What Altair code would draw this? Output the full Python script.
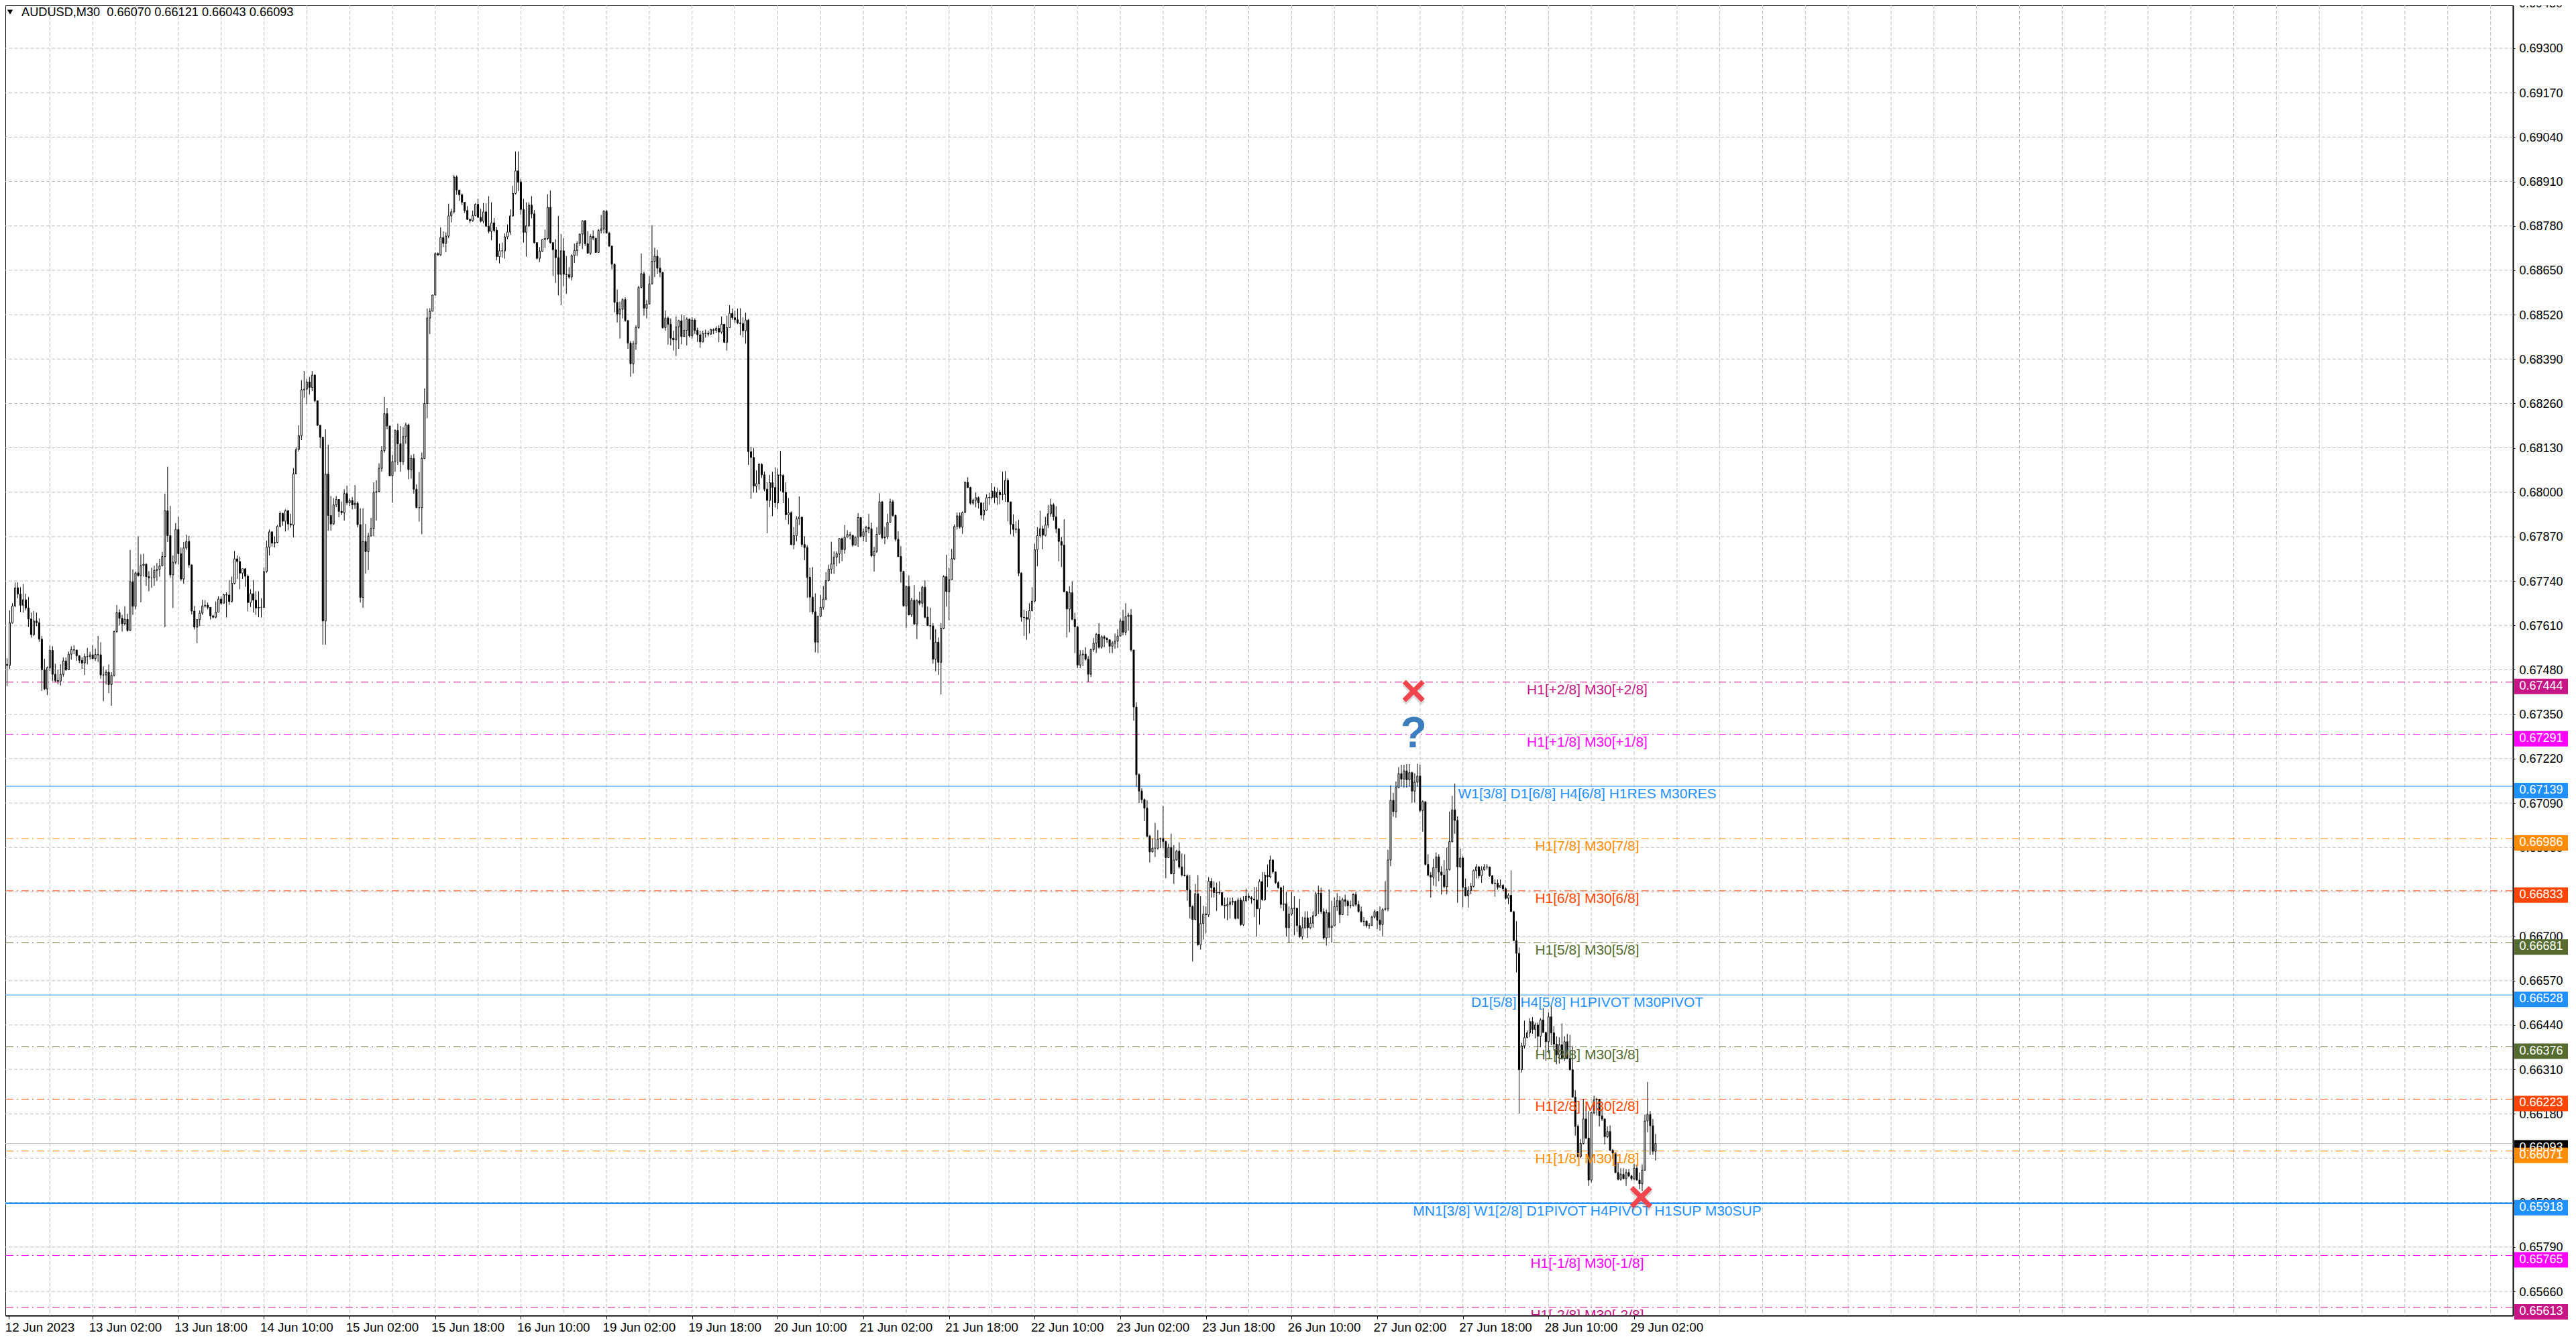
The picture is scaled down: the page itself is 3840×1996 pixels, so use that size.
import json
import altair as alt
import pandas as pd

# Prices in points (1/100000), one bar per 30 minutes
closes = [
67493,67618,67667,67720,67702,67669,67685,67661,67629,67583,
67623,67618,67570,67480,67424,67486,67537,67467,67449,67447,
67467,67506,67480,67526,67539,67538,67521,67508,67500,67519,
67519,67524,67513,67525,67524,67465,67465,67473,67437,67464,
67592,67648,67631,67615,67628,67595,67738,67666,67764,67756,
67785,67789,67753,67749,67749,67771,67774,67784,67812,67946,
67873,67758,67795,67891,67820,67746,67837,67856,67787,67652,
67605,67627,67646,67667,67669,67663,67638,67634,67649,67687,
67675,67700,67699,67680,67733,67805,67797,67763,67776,67754,
67677,67703,67684,67661,67663,67663,67768,67839,67884,67851,
67853,67900,67938,67915,67946,67907,67904,68054,68125,68166,
68300,68302,68323,68307,68343,68268,68196,68161,67623,68053,
67932,67907,67963,67979,67944,67940,67996,67969,67976,67963,
67968,67905,67692,67856,67826,67872,67894,68000,68002,68070,
68122,68230,68194,68048,68090,68181,68142,68089,68163,68197,
68066,68099,68009,67955,67955,68099,68260,68510,68530,68577,
68699,68695,68746,68729,68750,68809,68821,68923,68885,68871,
68849,68825,68799,68795,68810,68843,68805,68794,68821,68779,
68764,68789,68767,68690,68707,68707,68748,68762,68809,68875,
68941,68908,68828,68761,68780,68841,68815,68731,68685,68706,
68740,68743,68834,68731,68710,68687,68638,68707,68638,68637,
68630,68693,68708,68729,68756,68795,68728,68700,68749,68744,
68702,68767,68771,68823,68759,68721,68668,68556,68522,68536,
68564,68503,68437,68376,68435,68482,68600,68640,68539,68551,
68610,68676,68691,68656,68644,68482,68510,68492,68451,68446,
68484,68502,68456,68474,68507,68458,68504,68474,68461,68440,
68465,68466,68463,68476,68474,68480,68469,68492,68439,68482,
68524,68511,68505,68496,68494,68473,68504,68119,68102,68018,
68025,68082,68051,68009,67976,68028,68014,67969,68051,68049,
68000,67934,67940,67847,67873,67922,67927,67847,67838,67751,
67693,67650,67561,67637,67663,67687,67741,67775,67790,67810,
67820,67864,67832,67869,67876,67874,67845,67869,67926,67871,
67884,67897,67893,67814,67827,67877,67972,67867,67869,67912,
67972,67932,67862,67812,67768,67667,67724,67641,67684,67614,
67682,67675,67722,67634,67610,67608,67511,67561,67502,67602,
67753,67709,67744,67805,67900,67931,67898,67941,68029,68014,
67968,67977,67984,67969,67933,67948,67984,67985,68003,67985,
68000,67993,67994,68035,67972,67906,67891,67893,67763,67634,
67633,67628,67653,67681,67832,67873,67893,67874,67904,67937,
67963,67928,67893,67856,67845,67709,67658,67706,67628,67606,
67494,67524,67526,67511,67467,67539,67558,67584,67546,67577,
67572,67568,67549,67558,67564,67579,67623,67590,67636,67640,
67538,67371,67173,67125,67100,67075,66993,66947,66958,66958,
66984,66986,66977,66930,66960,66883,66923,66949,66903,66879,
66877,66835,66787,66749,66824,66675,66737,66765,66763,66861,
66842,66828,66827,66828,66791,66789,66793,66800,66802,66752,
66806,66734,66804,66817,66813,66809,66806,66780,66860,66807,
66879,66874,66923,66888,66857,66842,66793,66795,66725,66765,
66781,66782,66731,66699,66725,66754,66725,66738,66760,66824,
66826,66772,66695,66769,66725,66730,66787,66804,66763,66807,
66802,66789,66790,66822,66793,66772,66743,66744,66731,66732,
66756,66772,66747,66734,66778,66780,66923,67098,67065,67135,
67176,67160,67184,67158,67179,67125,67151,67169,67068,67094,
66910,66879,66873,66901,66932,66888,66879,66845,66895,66977,
67070,67039,66903,66929,66843,66818,66834,66846,66892,66903,
66877,66894,66903,66903,66877,66854,66855,66843,66849,66839,
66811,66820,66772,66687,66650,66309,66379,66403,66417,66450,
66427,66440,66407,66455,66418,66391,66464,66417,66384,66352,
66382,66342,66391,66342,66309,66229,66143,66054,66093,66165,
66109,65986,66183,66221,66222,66174,66165,66113,66128,66073,
66065,66008,65988,66003,65990,66008,65998,65990,66021,65986,
65975,66015,66159,66178,66145,66070,66093,
]
highs = [
67514,67654,67675,67736,67736,67722,67731,67703,67693,67648,
67652,67648,67631,67579,67512,67490,67551,67549,67498,67480,
67496,67516,67516,67534,67549,67552,67537,67523,67517,67528,
67544,67533,67552,67542,67579,67561,67490,67480,67496,67473,
67595,67670,67657,67641,67666,67644,67831,67774,67767,67871,
67818,67820,67792,67769,67779,67785,67793,67805,67825,67996,
68075,67960,67815,67910,67928,67838,67854,67876,67872,67789,
67667,67628,67654,67685,67684,67677,67648,67641,67680,67695,
67695,67703,67707,67743,67753,67828,67815,67812,67776,67776,
67759,67716,67743,67710,67710,67690,67780,67858,67891,67885,
67871,67904,67944,67940,67950,67948,67937,68071,68132,68196,
68328,68355,68332,68338,68355,68345,68266,68197,68161,68184,
68139,67989,67983,67989,67963,67973,68009,68019,67983,67986,
68021,67973,67953,67953,67907,67881,67925,68029,68035,68085,
68135,68279,68247,68194,68110,68184,68201,68194,68191,68204,
68201,68109,68112,68023,68059,68116,68304,68538,68539,68579,
68702,68702,68776,68764,68761,68845,68830,68929,68928,68885,
68875,68849,68838,68801,68825,68846,68860,68830,68847,68846,
68867,68849,68803,68777,68728,68731,68758,68784,68828,68897,
68998,68998,68917,68859,68849,68849,68867,68826,68731,68718,
68741,68769,68873,68884,68730,68741,68809,68756,68744,68692,
68659,68697,68728,68735,68757,68796,68797,68765,68756,68767,
68741,68771,68812,68826,68826,68763,68721,68670,68594,68558,
68568,68571,68503,68443,68443,68489,68604,68699,68646,68563,
68633,68782,68716,68710,68687,68643,68532,68515,68509,68473,
68515,68505,68520,68518,68512,68509,68512,68509,68482,68473,
68473,68476,68473,68479,68480,68486,68489,68515,68486,68517,
68548,68538,68532,68538,68539,68512,68526,68507,68133,68130,
68064,68085,68085,68060,68029,68051,68060,68073,68069,68121,
68053,68029,67983,67944,67898,67930,67988,67928,67871,67845,
67779,67781,67704,67639,67700,67726,67766,67788,67855,67827,
67827,67866,67867,67904,67889,67884,67873,67871,67939,67927,
67893,67902,67937,67911,67840,67898,67997,67974,67898,67937,
67981,67978,67935,67886,67842,67770,67726,67757,67691,67728,
67687,67709,67726,67742,67665,67662,67617,67599,67575,67617,
67757,67817,67779,67834,67906,67941,67941,67944,68032,68044,
68016,67981,67999,67988,67944,67970,67994,67999,68027,68016,
68013,68007,68060,68062,68041,67972,67935,67915,67919,67766,
67656,67652,67675,67722,67849,67898,67946,67902,67928,67963,
67981,67968,67959,67895,67869,67921,67711,67725,67739,67647,
67608,67538,67538,67546,67520,67542,67573,67588,67617,67581,
67581,67575,67559,67564,67586,67599,67630,67656,67675,67647,
67658,67538,67385,67177,67133,67103,67098,66997,66986,67032,
67011,66989,67081,66980,66971,67000,66967,66953,66975,66942,
66940,66881,66879,66791,66853,66879,66817,66789,66787,66873,
66870,66861,66857,66861,66826,66813,66813,66813,66813,66804,
66813,66813,66817,66839,66826,66817,66844,66844,66866,66888,
66888,66910,66936,66925,66889,66861,66845,66848,66830,66787,
66830,66817,66782,66809,66756,66773,66773,66756,66773,66830,
66848,66842,66782,66778,66837,66804,66813,66826,66817,66813,
66822,66807,66804,66826,66830,66804,66787,66756,66747,66738,
66760,66778,66774,66787,66782,66861,66953,67142,67120,67153,
67195,67202,67202,67204,67204,67182,67177,67205,67202,67098,
67094,66940,66888,66927,66945,66940,66905,66923,66960,67065,
67111,67147,67051,66957,66934,66869,66846,66856,66895,66911,
66905,66905,66911,66911,66894,66879,66866,66866,66866,66852,
66843,66826,66893,66774,66744,66667,66388,66453,66424,66460,
66463,66447,66447,66460,66489,66420,66477,66499,66437,66407,
66404,66445,66407,66414,66411,66378,66249,66149,66106,66224,
66201,66188,66185,66233,66227,66224,66195,66165,66143,66146,
66077,66067,66037,66021,66021,66018,66018,66001,66034,66031,
66008,66032,66178,66273,66188,66165,66121,
]
lows = [
67432,67483,67615,67664,67690,67649,67648,67654,67605,67574,
67579,67608,67562,67418,67421,67406,67477,67447,67444,67437,
67434,67460,67477,67480,67510,67526,67506,67500,67483,67465,
67496,67510,67510,67506,67503,67454,67388,67437,67412,67375,
67460,67588,67610,67592,67610,67592,67595,67641,67657,67753,
67678,67753,67726,67710,67720,67726,67740,67753,67785,67605,
67854,67749,67661,67789,67789,67740,67732,67831,67779,67642,
67598,67558,67608,67641,67662,67657,67627,67631,67631,67648,
67670,67677,67633,67670,67677,67730,67746,67716,67746,67723,
67651,67664,67648,67641,67634,67633,67662,67764,67815,67841,
67838,67851,67897,67902,67885,67889,67896,67868,68063,68119,
68153,68277,68258,68286,68296,68263,68194,68129,67554,67554,
67887,67887,67904,67956,67927,67933,67917,67963,67960,67950,
67951,67897,67677,67662,67762,67772,67871,67871,67917,68000,
68060,68116,68184,68048,67969,68060,68080,68060,68080,68142,
68038,68040,67996,67953,67914,67877,68097,68217,68463,68545,
68649,68692,68692,68718,68703,68744,68790,68816,68871,68853,
68841,68818,68797,68788,68792,68808,68803,68790,68787,68777,
68758,68738,68761,68679,68670,68687,68684,68741,68754,68807,
68872,68882,68813,68731,68690,68777,68802,68728,68681,68674,
68704,68715,68738,68728,68633,68613,68576,68548,68604,68581,
68625,68620,68671,68692,68721,68712,68721,68699,68695,68738,
68702,68733,68758,68758,68758,68718,68653,68527,68497,68450,
68509,68499,68420,68338,68348,68417,68479,68597,68517,68509,
68554,68609,68630,68640,68630,68479,68473,68432,68430,68415,
68399,68420,68433,68456,68430,68453,68450,68463,68440,68423,
68439,68453,68456,68461,68463,68467,68439,68464,68437,68415,
68487,68505,68496,68492,68460,68454,68435,68080,67981,67999,
67999,68007,68042,68003,67880,67956,67930,67955,67950,68003,
67968,67919,67906,67845,67833,67856,67904,67840,67801,67691,
67649,67643,67531,67529,67634,67656,67684,67739,67761,67761,
67783,67792,67798,67820,67867,67862,67840,67845,67840,67867,
67856,67854,67880,67810,67768,67823,67876,67862,67848,67862,
67911,67928,67856,67810,67735,67665,67603,67639,67634,67612,
67570,67669,67663,67631,67608,67568,67498,67476,67465,67408,
67599,67665,67625,67742,67801,67891,67893,67878,67939,68012,
67963,67963,67956,67952,67921,67917,67946,67963,67979,67968,
67963,67965,67977,67972,67915,67877,67871,67880,67754,67621,
67579,67568,67586,67651,67678,67783,67867,67833,67871,67895,
67928,67917,67880,67798,67781,67707,67575,67590,67625,67529,
67485,67485,67491,67507,67444,67459,67533,67529,67542,67542,
67546,67559,67529,67529,67542,67544,67577,67581,67581,67595,
67533,67331,67138,67090,67090,67037,66989,66916,66945,66932,
66953,66958,66958,66870,66932,66881,66853,66921,66898,66875,
66875,66804,66752,66626,66747,66672,66661,66690,66708,66756,
66813,66813,66774,66822,66789,66752,66747,66752,66791,66749,
66782,66730,66730,66800,66804,66795,66756,66699,66734,66804,
66804,66844,66870,66883,66853,66839,66782,66774,66699,66681,
66760,66703,66712,66695,66690,66721,66695,66721,66725,66758,
66765,66765,66690,66673,66695,66681,66730,66774,66738,66762,
66787,66760,66782,66787,66787,66769,66740,66730,66725,66721,
66730,66752,66721,66716,66699,66775,66773,66905,67050,67047,
67133,67138,67135,67135,67138,67091,67091,67138,67063,67006,
66907,66875,66813,66848,66845,66861,66822,66840,66823,66892,
66974,67000,66798,66901,66785,66816,66784,66823,66843,66869,
66869,66856,66892,66895,66874,66852,66816,66836,66843,66833,
66807,66794,66771,66686,66594,66181,66301,66371,66401,66404,
66414,66401,66365,66375,66417,66335,66358,66381,66365,66325,
66327,66339,66335,66340,66307,66227,66116,66052,66050,66090,
66106,65969,65979,66178,66175,66143,66159,66090,66109,66071,
66047,66006,65985,65984,65988,65969,65995,65985,65985,65985,
65959,65954,66013,66126,66060,66060,66043,
]
first_open = 67496

price_ticks = [
0.69300,0.69170,0.69040,0.68910,0.68780,0.68650,0.68520,0.68390,0.68260,0.68130,
0.68000,0.67870,0.67740,0.67610,0.67480,0.67350,0.67220,0.67090,0.66960,0.66830,
0.66700,0.66570,0.66440,0.66310,0.66180,0.66050,0.65920,0.65790,0.65660,
]
top_tick = 0.69430
date_labels = [
"12 Jun 2023","13 Jun 02:00","13 Jun 18:00","14 Jun 10:00","15 Jun 02:00",
"15 Jun 18:00","16 Jun 10:00","19 Jun 02:00","19 Jun 18:00","20 Jun 10:00",
"21 Jun 02:00","21 Jun 18:00","22 Jun 10:00","23 Jun 02:00","23 Jun 18:00",
"26 Jun 10:00","27 Jun 02:00","27 Jun 18:00","28 Jun 10:00","29 Jun 02:00",
]
level_values = [0.67444,0.67291,0.67139,0.66986,0.66833,0.66681,0.66528,0.66376,0.66223,0.66071,0.65918,0.65765,0.65613]
level_colors = ["#C71585","#FF00FF","#1E90FF","#FF8C00","#FF4500","#556B2F","#1E90FF",
                "#556B2F","#FF4500","#FF8C00","#1E90FF","#FF00FF","#C71585"]
level_kinds = ["dash","dash","solid","dash","dash","dash","solid","dash","dash","dash","solid","dash","dash"]
level_widths = [1,1,1,1,1,1,1,1,1,1,2.5,1,1]
level_names = [
"H1[+2/8] M30[+2/8]","H1[+1/8] M30[+1/8]","W1[3/8] D1[6/8] H4[6/8] H1RES M30RES",
"H1[7/8] M30[7/8]","H1[6/8] M30[6/8]","H1[5/8] M30[5/8]",
"D1[5/8] H4[5/8] H1PIVOT M30PIVOT","H1[3/8] M30[3/8]","H1[2/8] M30[2/8]","H1[1/8] M30[1/8]",
"MN1[3/8] W1[2/8] D1PIVOT H4PIVOT H1SUP M30SUP","H1[-1/8] M30[-1/8]","H1[-2/8] M30[-2/8]",
]
last_price = 0.66093
header = "AUDUSD,M30\u00a0\u00a00.66070 0.66121 0.66043 0.66093"
cross_bars = [525.6, 610.6]
cross_prices = [0.67418, 0.65936]
question_bar = [525.6]
question_price = [0.67290]

FONT = "Liberation Sans"
PLOT_W, PLOT_H = 3738, 1953
xs = alt.Scale(domain=[0.625, 935.125], nice=False, zero=False)
ys = alt.Scale(domain=[0.655893, 0.694257], nice=False, zero=False)

n = min(len(closes), len(highs), len(lows))
opens = [first_open] + closes[:n - 1]
bars = pd.DataFrame({
    "i": list(range(n)),
    "o": [v / 1e5 for v in opens],
    "h": [v / 1e5 for v in highs[:n]],
    "l": [v / 1e5 for v in lows[:n]],
    "c": [v / 1e5 for v in closes[:n]],
})
bars["body"] = ["#ffffff" if c >= o else "#000000" for o, c in zip(opens, closes[:n])]

levels = pd.DataFrame({"v": level_values, "color": level_colors, "kind": level_kinds,
                       "w": level_widths, "name": level_names})
levels["txt"] = [f"{v:.5f}" for v in level_values]
boxes = pd.concat([
    pd.DataFrame({"v": [last_price], "color": ["#000000"], "txt": [f"{last_price:.5f}"]}),
    levels[["v", "color", "txt"]],
], ignore_index=True)

x_vals = [0.7] + [32 * k for k in range(1, len(date_labels))]
x_axis = alt.Axis(
    values=x_vals, labelExpr=f"{json.dumps(date_labels)}[round(datum.value/32)]",
    orient="bottom", title=None, grid=False, labelFont=FONT, labelFontSize=18.8, labelColor="#000",
    labelAlign="left", labelBaseline="top", labelPadding=3, labelOffset=-6, labelFlush=False,
    labelOverlap=False, labelBound=False, tickSize=5, tickColor="#000", tickWidth=1,
    domainColor="#000", domainWidth=2,
)
y_axis = alt.Axis(
    values=price_ticks, format=".5f", orient="right", title=None, grid=False, labelFont=FONT,
    labelFontSize=18, labelColor="#000", labelPadding=6, labelOffset=1, labelOverlap=False,
    labelBound=False, labelFlush=False, tickSize=3, tickColor="#000", tickWidth=1,
    domainColor="#000", domainWidth=2,
)
X = lambda f: alt.X(f, scale=xs, axis=x_axis)
Y = lambda f: alt.Y(f, scale=ys, axis=y_axis)

grid_h = alt.Chart(pd.DataFrame({"v": price_ticks})).mark_rule(
    color="#C0C0C0", strokeDash=[5, 3], strokeWidth=1).encode(y=Y("v:Q"))
grid_v = alt.Chart(pd.DataFrame({"x": [16 * k for k in range(1, 59)]})).mark_rule(
    color="#C0C0C0", strokeDash=[5, 3], strokeWidth=1).encode(x=X("x:Q"))

last_line = alt.Chart(pd.DataFrame({"v": [last_price]})).mark_rule(
    color="#C0C0C0", strokeWidth=1).encode(y=Y("v:Q"))
dash_lines = alt.Chart(levels[levels.kind == "dash"]).mark_rule(strokeDash=[11, 5, 2, 5]).encode(
    y=Y("v:Q"), color=alt.Color("color:N", scale=None), strokeWidth=alt.StrokeWidth("w:Q", scale=None))
solid_lines = alt.Chart(levels[levels.kind == "solid"]).mark_rule().encode(
    y=Y("v:Q"), color=alt.Color("color:N", scale=None), strokeWidth=alt.StrokeWidth("w:Q", scale=None))

wicks = alt.Chart(bars).mark_rule(color="#000000", strokeWidth=1).encode(
    x=X("i:Q"), y=Y("l:Q"), y2=alt.Y2("h:Q"),
)
bodies = alt.Chart(bars).mark_bar(size=2, stroke="#000000", strokeWidth=1).encode(
    x=X("i:Q"), y=Y("o:Q"), y2=alt.Y2("c:Q"), color=alt.Color("body:N", scale=None),
)

level_text = alt.Chart(levels).mark_text(
    font=FONT, fontSize=21, align="center", baseline="middle", yOffset=12, clip=True,
).encode(x=alt.value(2358), y=Y("v:Q"), text="name:N", color=alt.Color("color:N", scale=None))

box_rect = alt.Chart(boxes).mark_rect(yOffset=-5, y2Offset=18, clip=False).encode(
    x=alt.value(3740), x2=alt.value(3820), y=Y("v:Q"), y2=alt.Y2("v:Q"),
    color=alt.Color("color:N", scale=None),
)
box_text = alt.Chart(boxes).mark_text(
    font=FONT, fontSize=18, align="center", baseline="middle", yOffset=6, color="#ffffff",
).encode(x=alt.value(3780), y=Y("v:Q"), text="txt:N")

top_label = alt.Chart(pd.DataFrame({"v": [top_tick], "t": [f"{top_tick:.5f}"]})).mark_text(
    font=FONT, fontSize=18, align="left", baseline="middle", color="#000000", clip=False,
).encode(x=alt.value(3747), y=Y("v:Q"), text="t:N")

title = alt.Chart(pd.DataFrame({"t": [header]})).mark_text(
    font=FONT, fontSize=18.2, align="left", baseline="middle", color="#000000",
).encode(x=alt.value(24), y=alt.value(11), text="t:N")
triangle = alt.Chart(pd.DataFrame({"a": [0]})).mark_point(
    shape="triangle-down", filled=True, color="#000000", size=70, opacity=1,
).encode(x=alt.value(7), y=alt.value(10))

X_SHAPE = ("M -0.69,-1 L 0,-0.31 L 0.69,-1 L 1,-0.69 L 0.31,0 L 1,0.69 L 0.69,1 "
           "L 0,0.31 L -0.69,1 L -1,0.69 L -0.31,0 L -1,-0.69 Z")
cross_df = pd.DataFrame({"x": cross_bars, "v": cross_prices})
cross_shadow = alt.Chart(cross_df).mark_point(
    shape=X_SHAPE, filled=True, color="#808080", opacity=0.3, size=1100, yOffset=4,
).encode(x=X("x:Q"), y=Y("v:Q"))
cross = alt.Chart(cross_df).mark_point(
    shape=X_SHAPE, filled=True, color="#F2444C", opacity=1, size=1100,
).encode(x=X("x:Q"), y=Y("v:Q"))
question = alt.Chart(pd.DataFrame({"x": question_bar, "v": question_price, "t": ["?"]})).mark_text(
    font=FONT, fontSize=64, fontWeight="bold", color="#3C7DBE", align="center", baseline="middle",
).encode(x=X("x:Q"), y=Y("v:Q"), text="t:N")

chart = alt.layer(
    grid_h, grid_v, last_line, dash_lines, solid_lines,
    wicks, bodies, level_text, box_rect, box_text, top_label,
    title, triangle, cross_shadow, cross, question,
).properties(
    width=PLOT_W, height=PLOT_H,
    padding={"left": 0, "top": 0, "right": 86, "bottom": 27},
    autosize=alt.AutoSizeParams(type="none"),
    background="#ffffff",
).configure_view(stroke="#000000", strokeWidth=1)

chart.save("out.html", embed_options={"renderer": "svg", "actions": False})
